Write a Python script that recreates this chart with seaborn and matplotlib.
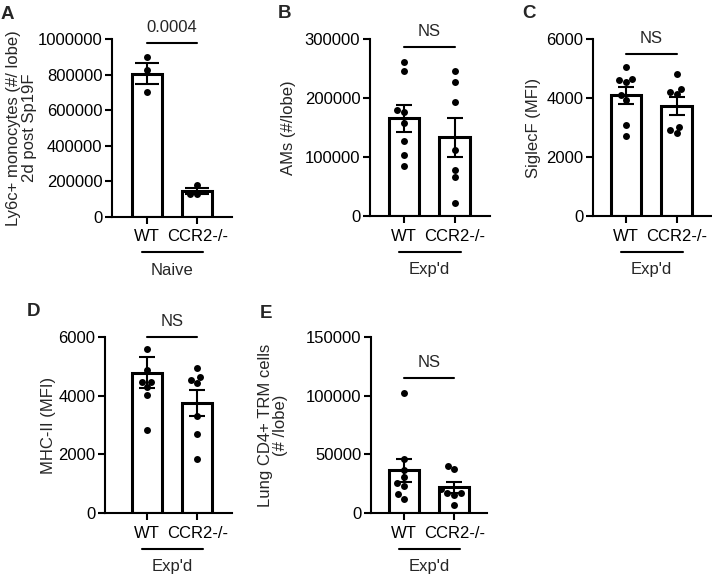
import seaborn as sns
import pandas as pd
import matplotlib.pyplot as plt
from matplotlib.transforms import ScaledTranslation

groups = ['WT', 'CCR2-/-']

# A - Ly6c+ monocytes, naive mice
a_wt = [902000, 828000, 705000]
a_ko = [178000, 130000, 128000]
a_mean = [805000, 145000]
a_sem = [59000, 16000]

# B - alveolar macrophages
b_wt = [261000, 247000, 180000, 177000, 158000, 128000, 104000, 86000]
b_ko = [246000, 228000, 193000, 112000, 79000, 66000, 22000]
b_mean = [166000, 134000]
b_sem = [22500, 33000]

# C - SiglecF MFI
c_wt = [5070, 4660, 4620, 4550, 4100, 3940, 3100, 2720]
c_ko = [4820, 4310, 4210, 4130, 3030, 2920, 2810]
c_mean = [4100, 3740]
c_sem = [290, 300]

# D - MHC-II MFI
d_wt = [5570, 4870, 4460, 4460, 4280, 4010, 2830]
d_ko = [4920, 4640, 4530, 4420, 3290, 2680, 1860]
d_mean = [4780, 3750]
d_sem = [515, 450]

# E - lung CD4+ TRM cells
e_wt = [102400, 46400, 36800, 30600, 26000, 23200, 16400, 12400]
e_ko = [40200, 37900, 20400, 17000, 17000, 15300, 7300]
e_mean = [36500, 22100]
e_sem = [10000, 4700]

sns.set_style("ticks")
plt.rcParams['font.family'] = ['Liberation Sans', 'DejaVu Sans']
plt.rcParams['font.size'] = 12
plt.rcParams['axes.edgecolor'] = 'black'
plt.rcParams['xtick.color'] = 'black'
plt.rcParams['ytick.color'] = 'black'

W, H = 712, 574
fig = plt.figure(figsize=(W / 100, H / 100), dpi=100)


def panel(rect, letter, letter_xy, wt, ko, mean, sem, ylabel, labelpad, yticks,
          sig, sig_y, group, xlim, capsize=6):
    x, y, w, h = rect
    ax = fig.add_axes([x / W, 1 - (y + h) / H, w / W, h / H])

    bars = pd.DataFrame({'group': groups, 'value': mean})
    sns.barplot(data=bars, x='group', y='value', order=groups, color='white',
                saturation=1, edgecolor='black', linewidth=2.2, width=0.6,
                errorbar=None, ax=ax)
    pts = pd.DataFrame({'group': ['WT'] * len(wt) + ['CCR2-/-'] * len(ko),
                        'value': wt + ko})
    sns.swarmplot(data=pts, x='group', y='value', order=groups, color='black',
                  size=5, ax=ax)
    ax.errorbar([0, 1], mean, yerr=sem, fmt='none', ecolor='black',
                elinewidth=1.5, capsize=capsize, capthick=1.5, zorder=5)

    ax.set_ylim(0, yticks[-1])
    ax.set_yticks(yticks)
    ax.ticklabel_format(axis='y', style='plain')
    ax.set_xlim(*xlim)
    ax.set_xlabel('')
    ax.set_ylabel(ylabel, labelpad=labelpad, linespacing=1.05)
    sns.despine(ax=ax)
    for s in ['left', 'bottom']:
        ax.spines[s].set_linewidth(1.5)
    ax.tick_params(axis='y', width=1.5, length=5, pad=2)
    ax.tick_params(axis='x', width=1.5, length=5, pad=4)

    # significance bracket
    ax.plot([0, 1], [sig_y, sig_y], color='black', lw=1.5, clip_on=False)
    ax.annotate(sig, xy=(0.5, sig_y), xytext=(0, 8), textcoords='offset points',
                ha='center', va='baseline', annotation_clip=False)

    # group label under the x ticks
    xt = ax.get_xaxis_transform()
    ax.plot([-0.1, 1.12], [0, 0], color='black', lw=1.5, clip_on=False,
            transform=xt + ScaledTranslation(0, -0.355, fig.dpi_scale_trans))
    ax.text(0.5, 0, group, ha='center', va='baseline',
            transform=xt + ScaledTranslation(0, -0.58, fig.dpi_scale_trans))

    fig.text(letter_xy[0] / W, 1 - letter_xy[1] / H, letter, fontsize=13.5,
             weight='bold', ha='left', va='top')
    return ax


panel((112, 39.3, 120, 177.4), 'A', (1, 6), a_wt, a_ko, a_mean, a_sem,
      'Ly6c+ monocytes (#/ lobe)\n2d post Sp19F', 0.5,
      [0, 200000, 400000, 600000, 800000, 1000000],
      '0.0004', 980000, 'Naive', (-0.686, 1.686), capsize=8.5)

panel((370, 39.3, 120, 177), 'B', (278, 5), b_wt, b_ko, b_mean, b_sem,
      'AMs (#/lobe)', 6.5, [0, 100000, 200000, 300000],
      'NS', 287000, "Exp'd", (-0.67, 1.70))

panel((593, 39.3, 118, 177), 'C', (522, 5), c_wt, c_ko, c_mean, c_sem,
      'SiglecF (MFI)', 3.5, [0, 2000, 4000, 6000],
      'NS', 5490, "Exp'd", (-0.652, 1.68))

panel((105, 336.7, 127, 176.6), 'D', (27, 303), d_wt, d_ko, d_mean, d_sem,
      'MHC-II (MFI)', 1.5, [0, 2000, 4000, 6000],
      'NS', 6000, "Exp'd", (-0.824, 1.686))

panel((371, 336.7, 116, 176.6), 'E', (260, 305), e_wt, e_ko, e_mean, e_sem,
      'Lung CD4+ TRM cells\n(# /lobe)', 12.5, [0, 50000, 100000, 150000],
      'NS', 115000, "Exp'd", (-0.646, 1.646))

fig.savefig('out.png', dpi=100)
